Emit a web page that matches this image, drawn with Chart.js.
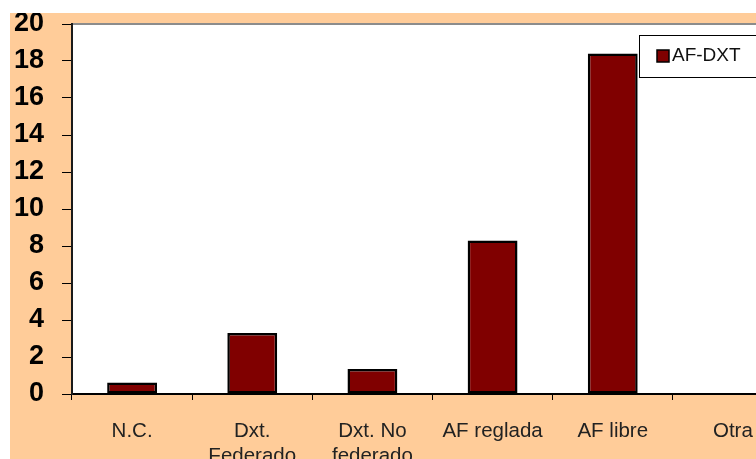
<!DOCTYPE html>
<html>
<head>
<meta charset="utf-8">
<script src="https://cdn.jsdelivr.net/npm/chart.js@4/dist/chart.umd.min.js"></script>
<style>
  html, body { margin: 0; padding: 0; background: #ffffff; overflow: hidden; width: 756px; height: 459px; }
  #frame { position: absolute; left: 10px; top: 13px; width: 746px; height: 446px; background: #FFCC99; overflow: hidden; }
  #chart { display: block; }
</style>
</head>
<body>
<div id="frame"><canvas id="chart" width="784" height="446"></canvas></div>
<script>
// Categories and the single AF-DXT series
const categories = [
  'N.C.',
  ['Dxt.', 'Federado'],
  ['Dxt. No', 'federado'],
  'AF reglada',
  'AF libre',
  'Otra'
];
const seriesName = 'AF-DXT';
const afDxt = [0.62, 3.3, 1.35, 8.3, 18.4, 0];
const yTicks = [0, 2, 4, 6, 8, 10, 12, 14, 16, 18, 20];

const barColor = '#800000';

// White plot area with a grey upper border
const plotArea = {
  id: 'plotArea',
  beforeDraw(chart) {
    const { ctx, chartArea: a } = chart;
    ctx.save();
    ctx.fillStyle = '#ffffff';
    ctx.fillRect(a.left, a.top, a.right - a.left, a.bottom - a.top);
    ctx.strokeStyle = '#8c8c8c';
    ctx.lineWidth = 2;
    ctx.beginPath();
    ctx.moveTo(a.left, a.top);
    ctx.lineTo(a.right, a.top);
    ctx.stroke();
    ctx.restore();
  }
};

// Boxed legend in the upper right corner of the plot
const boxLegend = {
  id: 'boxLegend',
  afterDraw(chart) {
    const { ctx } = chart;
    const x = 629, y = 22, w = 140, h = 42;
    ctx.save();
    ctx.fillStyle = '#ffffff';
    ctx.fillRect(x, y, w, h);
    ctx.strokeStyle = '#000000';
    ctx.lineWidth = 1;
    ctx.strokeRect(x + 0.5, y + 0.5, w, h);
    const ds = chart.data.datasets[0];
    ctx.fillStyle = ds.backgroundColor;
    ctx.fillRect(x + 18, y + 15, 12, 12);
    ctx.strokeStyle = '#000000';
    ctx.lineWidth = 1.5;
    ctx.strokeRect(x + 18, y + 15, 12, 12);
    ctx.fillStyle = '#111111';
    ctx.font = '19px "Liberation Sans", Arial, sans-serif';
    ctx.textBaseline = 'middle';
    ctx.fillText(ds.label, x + 33, y + 21);
    ctx.restore();
  }
};

new Chart(document.getElementById('chart'), {
  type: 'bar',
  data: {
    labels: categories,
    datasets: [{
      label: seriesName,
      data: afDxt,
      backgroundColor: barColor,
      borderColor: '#000000',
      borderWidth: 2.5,
      borderSkipped: false,
      barPercentage: 0.415,
      categoryPercentage: 1.0
    }]
  },
  options: {
    responsive: false,
    animation: false,
    devicePixelRatio: 1,
    layout: { padding: { top: 11, left: 0, right: 1, bottom: 0 } },
    plugins: {
      legend: { display: false },
      tooltip: { enabled: false }
    },
    scales: {
      x: {
        offset: true,
        grid: {
          display: true,
          drawOnChartArea: false,
          drawTicks: true,
          tickLength: 6,
          color: '#000000',
          offset: true
        },
        border: { display: true, color: '#000000', width: 2 },
        ticks: {
          color: '#222222',
          padding: 19,
          maxRotation: 0,
          autoSkip: false,
          font: { family: '"Liberation Sans", Arial, sans-serif', size: 20.5, lineHeight: 1.22 }
        },
        afterFit(scale) {
          scale.height = 65;
          scale.paddingLeft = 0;
          scale.paddingRight = 0;
        }
      },
      y: {
        min: 0,
        max: 20,
        afterBuildTicks(scale) {
          scale.ticks = yTicks.map(v => ({ value: v }));
        },
        grid: {
          display: true,
          drawOnChartArea: false,
          drawTicks: true,
          tickLength: 10,
          color: '#000000'
        },
        border: { display: true, color: '#1a1a1a', width: 2 },
        ticks: {
          color: '#000000',
          padding: 18,
          font: { family: '"Liberation Sans", Arial, sans-serif', size: 27, weight: 'bold' }
        },
        afterFit(scale) {
          scale.width = 62;
          scale.paddingTop = 0;
          scale.paddingBottom = 0;
        }
      }
    }
  },
  plugins: [plotArea, boxLegend]
});
</script>
</body>
</html>
